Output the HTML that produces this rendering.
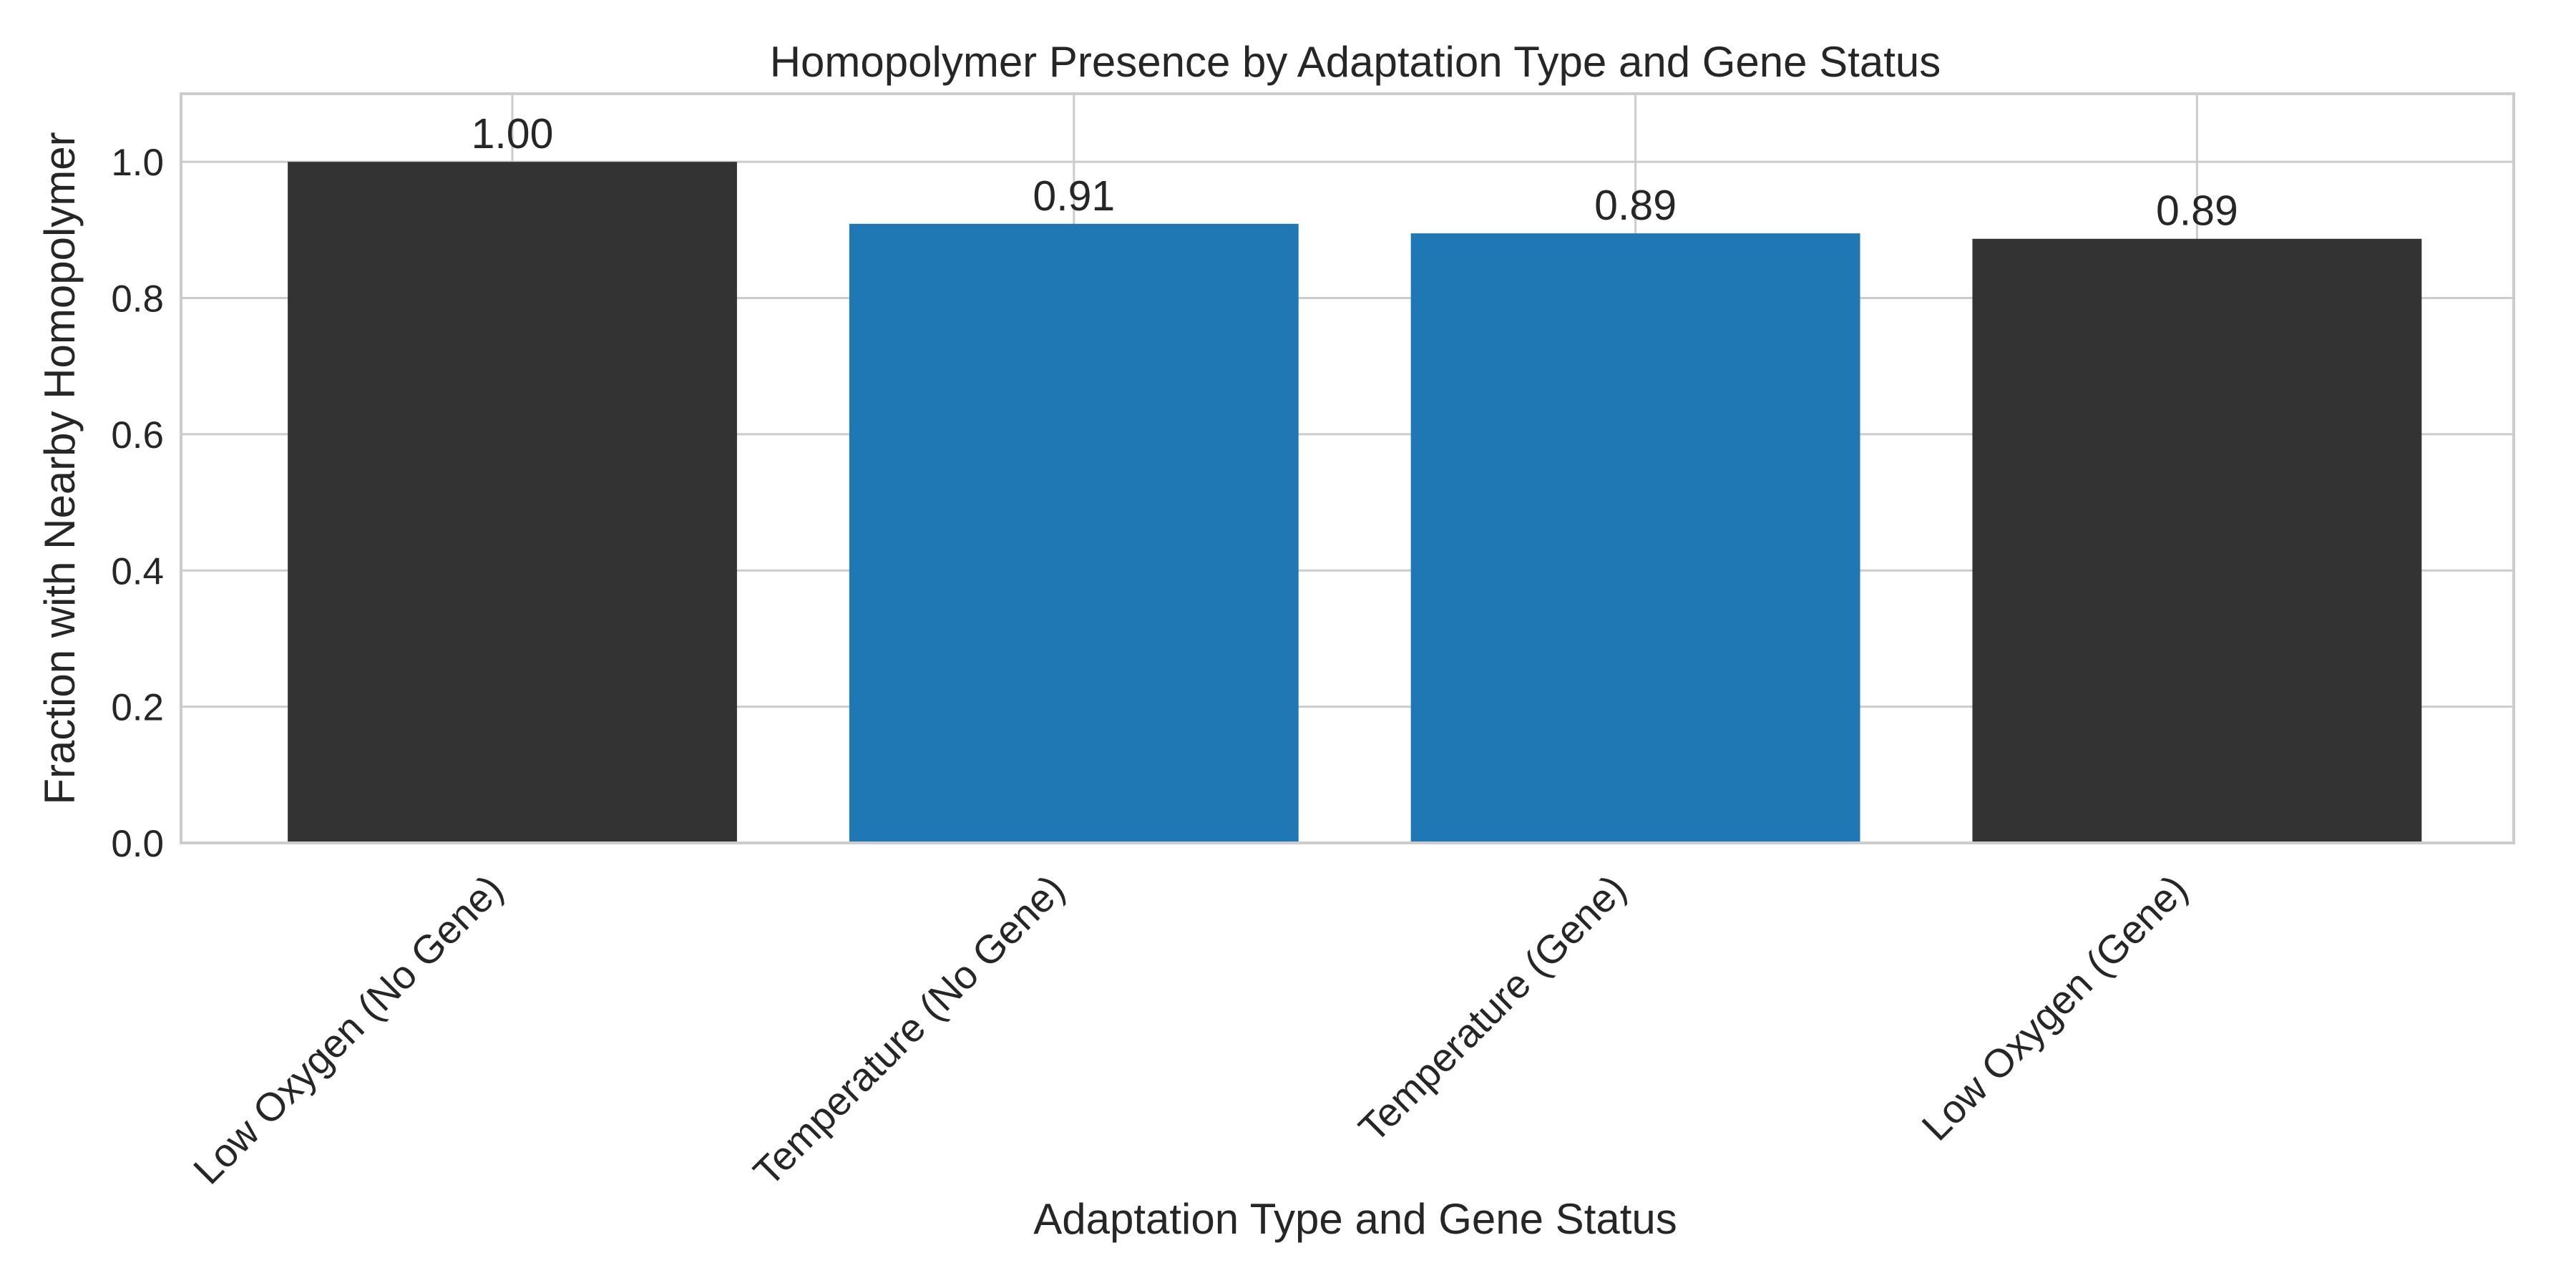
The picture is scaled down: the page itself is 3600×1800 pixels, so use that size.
<!DOCTYPE html>
<html><head><meta charset="utf-8"><style>
html,body{margin:0;padding:0;background:#fff}
svg{display:block}
text{font-family:"Liberation Sans",sans-serif;fill:#262626}
</style></head><body>
<svg id="chart" width="3600" height="1800" viewBox="0 0 3600 1800" xmlns="http://www.w3.org/2000/svg">
<rect width="3600" height="1800" fill="#fff"/>
<g id="grid"></g><g id="bars"></g><g id="frame"></g><g id="labels"></g>
</svg>
<script>
const categories = ["Low Oxygen (No Gene)", "Temperature (No Gene)", "Temperature (Gene)", "Low Oxygen (Gene)"];
const values = [1.0, 0.909, 0.895, 0.887];
const valueLabels = ["1.00", "0.91", "0.89", "0.89"];
const barColors = ["#333333", "#1f77b4", "#1f77b4", "#333333"];
const yTicks = [0, 0.2, 0.4, 0.6, 0.8, 1.0];
const yTickLabels = ["0.0", "0.2", "0.4", "0.6", "0.8", "1.0"];

const NS = "http://www.w3.org/2000/svg";
const L = 253, R = 3513, T = 131, B = 1178;
const xmin = -0.59, xmax = 3.564, ymin = 0, ymax = 1.1;
const xs = v => L + (v - xmin) / (xmax - xmin) * (R - L);
const ys = v => B - (v - ymin) / (ymax - ymin) * (B - T);
function mk(tag, attrs, parent, txt) {
  const e = document.createElementNS(NS, tag);
  for (const k in attrs) e.setAttribute(k, attrs[k]);
  if (txt !== undefined) e.textContent = txt;
  document.getElementById(parent).appendChild(e);
  return e;
}
yTicks.forEach((t, i) => {
  const g = mk("line", {x1: L, x2: R, y1: ys(t), y2: ys(t), stroke: "#cccccc", "stroke-width": 3}, "grid");
  
  
  const lb = mk("text", {x: L - 24, y: ys(t) + 19, "text-anchor": "end", "font-size": 53}, "labels", yTickLabels[i]);
  
  
});
categories.forEach((c, i) => {
  const g = mk("line", {x1: xs(i), x2: xs(i), y1: T, y2: B, stroke: "#cccccc", "stroke-width": 3}, "grid");
  
  
});
const bw = 0.8;
categories.forEach((c, i) => {
  const x0 = xs(i - bw / 2), x1 = xs(i + bw / 2);
  const b = mk("rect", {x: x0, y: ys(values[i]), width: x1 - x0, height: ys(0) - ys(values[i]), fill: barColors[i]}, "bars");
  
  
  const v = mk("text", {x: xs(i), y: ys(values[i]) - 19, "text-anchor": "middle", "font-size": 59}, "labels", valueLabels[i]);
  
  
  const ex = xs(i) - 10, ey = 1246;
  const t = mk("text", {x: ex, y: ey, "text-anchor": "end", "font-size": 55.5, transform: `rotate(-45 ${ex} ${ey})`}, "labels", c);
  
  
});
const f = mk("rect", {x: L, y: T, width: R - L, height: B - T, fill: "none", stroke: "#cccccc", "stroke-width": 4}, "frame");


const title = mk("text", {x: (L + R) / 2 + 11, y: 107, "text-anchor": "middle", "font-size": 60}, "labels", "Homopolymer Presence by Adaptation Type and Gene Status");


const xl = mk("text", {x: (L + R) / 2 + 11, y: 1724, "text-anchor": "middle", "font-size": 60}, "labels", "Adaptation Type and Gene Status");


const yl = mk("text", {x: 104, y: (T + B) / 2, "text-anchor": "middle", "font-size": 60, transform: `rotate(-90 104 ${(T + B) / 2})`}, "labels", "Fraction with Nearby Homopolymer");


</script>
</body></html>
